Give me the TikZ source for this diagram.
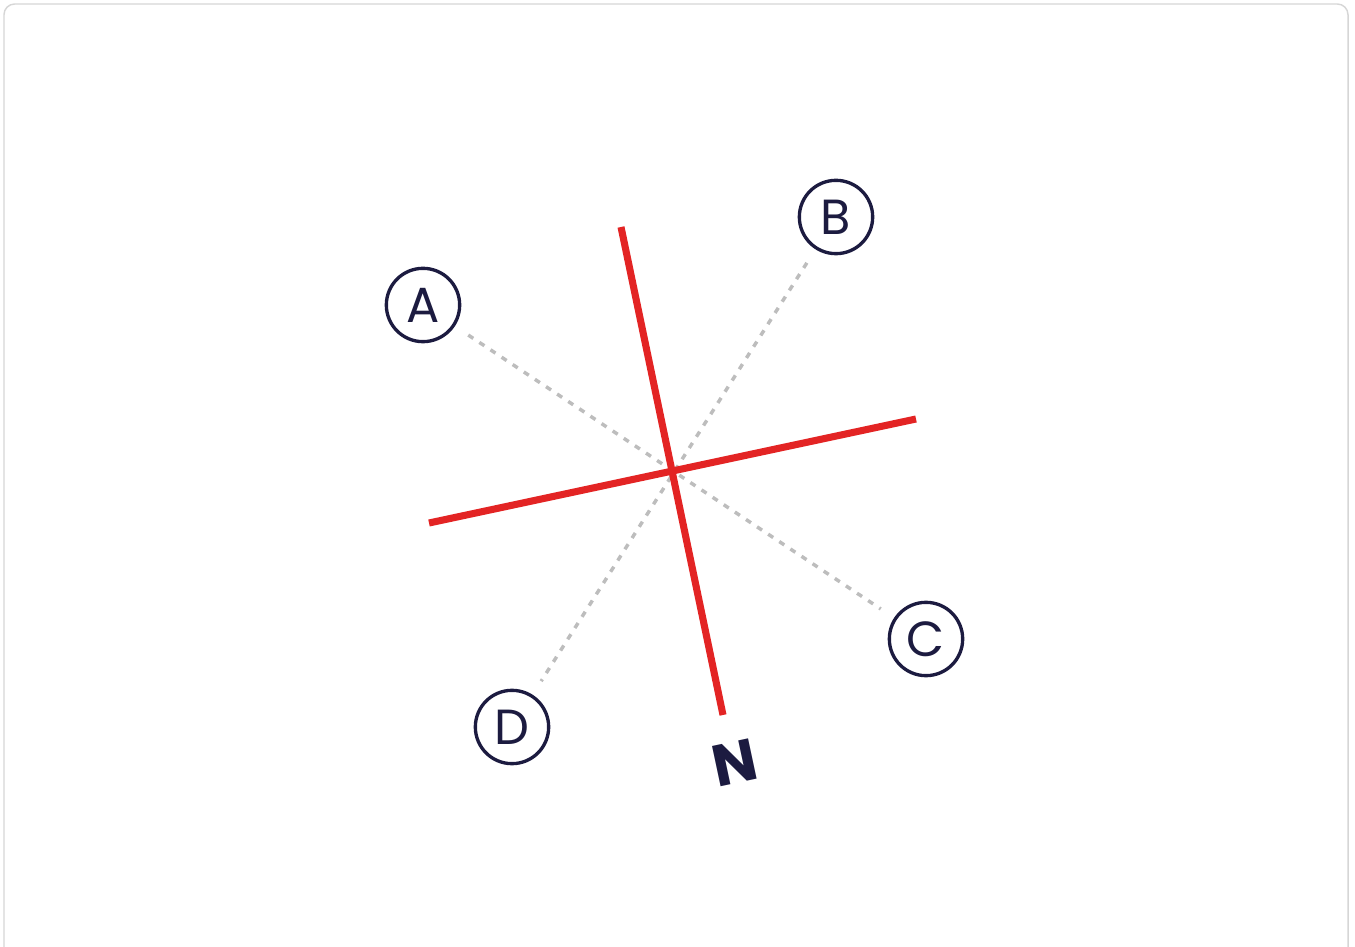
\documentclass[tikz,border=0pt]{standalone}
\usepackage{fontspec}
\setmainfont{Poppins}
\usetikzlibrary{positioning, calc}
\definecolor{navy}{HTML}{1C1B40}
\definecolor{compassred}{HTML}{E32424}
\definecolor{guidegray}{HTML}{BDBDBD}
\definecolor{framegray}{HTML}{D6D6D6}
\tikzset{
  pointring/.style={circle, draw=navy, line width=2.5pt, minimum size=55pt, inner sep=0pt, text=navy, font=\fontsize{37}{37}\selectfont},
  axisline/.style={compassred, line width=5.3pt},
  guideline/.style={guidegray, line width=2.6pt, dash pattern=on 4.5pt off 5.5pt, shorten <=12pt, shorten >=12pt}
}

\begin{document}
\begin{tikzpicture}[x=0.75pt, y=0.75pt]
        \useasboundingbox (0,0) rectangle (1355,946);
        % frame, open at the bottom
        \draw[framegray, line width=1.1pt, rounded corners=8pt] (4,-20) -- (4,942) -- (1348,942) -- (1348,-20);
        % points
        \node[pointring] (A) at (423,641) {A};
        \node[pointring] (B) at (836,729) {B};
        \node[pointring] (C) at (926,307) {C};
        \node[pointring] (D) at (512,219) {D};
        % guides
        \draw[guideline] (A) -- (C);
        \draw[guideline] (B) -- (D);
        % axes
        \coordinate (top) at (621,719);
        \coordinate (bottom) at (723,231);
        \coordinate (left) at (429,423);
        \coordinate (right) at (916,527);
        \draw[axisline] (top) -- (bottom);
        \draw[axisline] (left) -- (right);
        \node[font=\fontsize{44}{44}\selectfont\bfseries, navy, rotate=12] (N) at (735,183) {N};
      \end{tikzpicture}
\end{document}
